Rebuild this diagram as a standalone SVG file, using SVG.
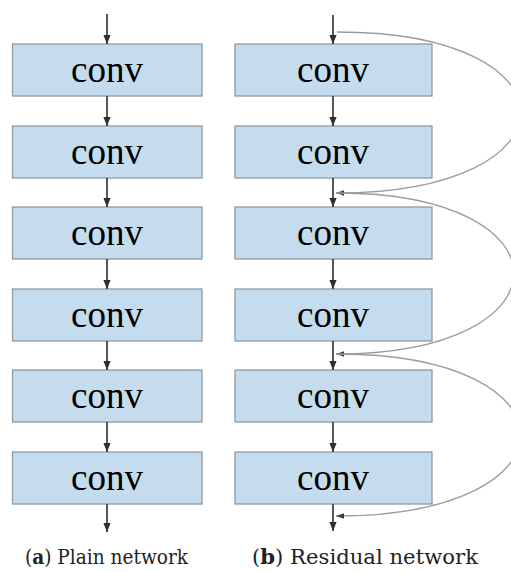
<svg xmlns="http://www.w3.org/2000/svg" width="511" height="572" viewBox="0 0 511 572">
  <defs>
    <marker id="head" markerUnits="userSpaceOnUse" markerWidth="9" markerHeight="9" viewBox="0 0 10 10" refX="10" refY="5" orient="auto">
      <path d="M0,1 L10,5 L0,9 z" fill="#2e2e2e"/>
    </marker>
    <marker id="head-s" markerUnits="userSpaceOnUse" markerWidth="8" markerHeight="8" viewBox="0 0 10 10" refX="10" refY="5" orient="auto">
      <path d="M0,1.5 L10,5 L0,8.5 z" fill="#3a3a3a"/>
    </marker>
    <style>
      .box{fill:#c4dcee;stroke:#8e9aa4;stroke-width:1.3}
      .lbl{font-family:"Liberation Serif","Times New Roman",serif;font-size:37px;fill:#000;text-anchor:middle}
      .flow{stroke:#2e2e2e;stroke-width:1.6;fill:none;marker-end:url(#head)}
      .skip{stroke:#9c9c9c;stroke-width:1.3;fill:none;marker-end:url(#head-s)}
      .cap{font-family:"DejaVu Serif","Liberation Serif",serif;font-size:20px;fill:#222}
    </style>
  </defs>

  <!-- plain network: six stacked conv blocks -->
  <g id="plain-conv1"><rect class="box" x="12.5" y="44" width="189.5" height="52"/><text class="lbl" x="107" y="82">conv</text></g>
  <g id="plain-conv2"><rect class="box" x="12.5" y="126" width="189.5" height="52"/><text class="lbl" x="107" y="164">conv</text></g>
  <g id="plain-conv3"><rect class="box" x="12.5" y="207" width="189.5" height="52"/><text class="lbl" x="107" y="245">conv</text></g>
  <g id="plain-conv4"><rect class="box" x="12.5" y="289" width="189.5" height="52"/><text class="lbl" x="107" y="327">conv</text></g>
  <g id="plain-conv5"><rect class="box" x="12.5" y="370" width="189.5" height="52"/><text class="lbl" x="107" y="408">conv</text></g>
  <g id="plain-conv6"><rect class="box" x="12.5" y="452" width="189.5" height="52"/><text class="lbl" x="107" y="490">conv</text></g>

  <!-- residual network: six stacked conv blocks -->
  <g id="res-conv1"><rect class="box" x="235" y="44" width="197" height="52"/><text class="lbl" x="333" y="82">conv</text></g>
  <g id="res-conv2"><rect class="box" x="235" y="126" width="197" height="52"/><text class="lbl" x="333" y="164">conv</text></g>
  <g id="res-conv3"><rect class="box" x="235" y="207" width="197" height="52"/><text class="lbl" x="333" y="245">conv</text></g>
  <g id="res-conv4"><rect class="box" x="235" y="289" width="197" height="52"/><text class="lbl" x="333" y="327">conv</text></g>
  <g id="res-conv5"><rect class="box" x="235" y="370" width="197" height="52"/><text class="lbl" x="333" y="408">conv</text></g>
  <g id="res-conv6"><rect class="box" x="235" y="452" width="197" height="52"/><text class="lbl" x="333" y="490">conv</text></g>

  <!-- connectors -->
  <g id="connectors">
    <line class="flow" x1="107" y1="14" x2="107" y2="44"/>
    <line class="flow" x1="107" y1="96" x2="107" y2="126"/>
    <line class="flow" x1="107" y1="178" x2="107" y2="207"/>
    <line class="flow" x1="107" y1="259" x2="107" y2="289"/>
    <line class="flow" x1="107" y1="341" x2="107" y2="370"/>
    <line class="flow" x1="107" y1="422" x2="107" y2="452"/>
    <line class="flow" x1="107" y1="504" x2="107" y2="532"/>

    <line class="flow" x1="333" y1="15" x2="333" y2="44"/>
    <line class="flow" x1="333" y1="96" x2="333" y2="126"/>
    <line class="flow" x1="333" y1="178" x2="333" y2="207"/>
    <line class="flow" x1="333" y1="259" x2="333" y2="289"/>
    <line class="flow" x1="333" y1="341" x2="333" y2="370"/>
    <line class="flow" x1="333" y1="422" x2="333" y2="452"/>
    <line class="flow" x1="333" y1="504" x2="333" y2="531"/>

    <!-- identity shortcuts -->
    <path class="skip" d="M337,32 C582,32 582,193 336,193"/>
    <path class="skip" d="M337,193 C573,193 573,354 336,354"/>
    <path class="skip" d="M337,354 C582,354 582,516 336,516"/>
  </g>

  <!-- captions -->
  <text class="cap" x="25" y="564" textLength="163" lengthAdjust="spacingAndGlyphs">(<tspan font-weight="bold">a</tspan>) Plain network</text>
  <text class="cap" x="252" y="564" textLength="226" lengthAdjust="spacingAndGlyphs">(<tspan font-weight="bold">b</tspan>) Residual network</text>
</svg>
